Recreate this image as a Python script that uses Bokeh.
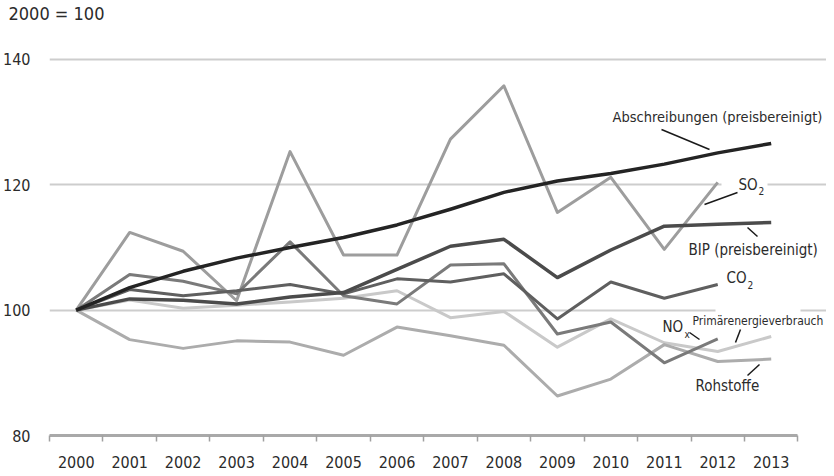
from bokeh.plotting import figure
from bokeh.models import Range1d, FixedTicker
from bokeh.core.properties import value
from bokeh.embed import file_html
from bokeh.resources import INLINE

# ---------------- data (2000 = 100) ----------------
years = [2000, 2001, 2002, 2003, 2004, 2005, 2006, 2007, 2008, 2009, 2010, 2011, 2012, 2013]
abschreibungen = [100, 103.6, 106.2, 108.3, 110.0, 111.6, 113.6, 116.1, 118.8, 120.6, 121.8, 123.3, 125.1, 126.6]
bip = [100, 101.8, 101.6, 101.0, 102.1, 102.8, 106.5, 110.2, 111.3, 105.2, 109.6, 113.4, 113.7, 114.0]
so2 = [100, 112.4, 109.4, 101.5, 125.3, 108.8, 108.8, 127.3, 135.8, 115.6, 121.2, 109.7, 120.4]
co2 = [100, 103.3, 102.3, 103.1, 104.1, 102.6, 105.0, 104.5, 105.8, 98.6, 104.5, 101.9, 104.1]
nox = [100, 105.7, 104.6, 102.6, 110.9, 102.3, 101.0, 107.2, 107.4, 96.2, 98.1, 91.6, 95.4]
primaer = [100, 101.6, 100.3, 100.8, 101.3, 101.9, 103.1, 98.8, 99.8, 94.1, 98.6, 94.8, 93.4, 95.8]
rohstoffe = [100, 95.3, 93.9, 95.1, 94.9, 92.8, 97.3, 95.9, 94.4, 86.3, 89.0, 94.5, 91.8, 92.2]
y_ticks = [80, 100, 120, 140]
grid_ticks = [100, 120, 140]

FONT = "'DejaVu Sans Condensed', Roboto, sans-serif"
TXT = "#2b2b2b"

# page-pixel helpers for annotation placement
PXW = 53.46   # px per year
PYU = 6.267   # px per index unit
TITLE_H = 16
FRAME_TOP = 8 + TITLE_H
def X(px):
    return 1999.5 + (px - 49) / PXW
def Y(py):
    return 80 + (436 - py) / PYU

p = figure(frame_width=777, frame_height=436 - FRAME_TOP,
           x_range=Range1d(1999.5, X(826)), y_range=Range1d(80, Y(FRAME_TOP)),
           output_backend="svg", toolbar_location=None,
           min_border_left=41, min_border_right=0, min_border_top=0, min_border_bottom=0)
p.outline_line_color = None
p.background_fill_color = "white"
p.border_fill_color = "white"

# index base note as title
p.title.text = "2000 = 100"
p.title.align = "left"
p.title.offset = -41
p.title.standoff = 0
p.title.text_font = FONT
p.title.text_font_size = "18px"
p.title.text_font_style = "normal"
p.title.text_color = TXT

# grid
p.xgrid.visible = False
p.ygrid.ticker = FixedTicker(ticks=grid_ticks)
p.ygrid.grid_line_color = "#cdcdcd"
p.ygrid.grid_line_width = 2
p.ygrid.bounds = (years[0] - 0.5, years[-1] + 0.5)

# y axis
p.yaxis.ticker = FixedTicker(ticks=y_ticks)
p.yaxis.axis_line_color = None
p.yaxis.major_tick_line_color = None
p.yaxis.minor_tick_line_color = None
p.yaxis.major_tick_out = 0
p.yaxis.major_tick_in = 0
p.yaxis.major_label_standoff = 19
p.yaxis.major_label_text_font = FONT
p.yaxis.major_label_text_font_size = "16px"
p.yaxis.major_label_text_color = TXT

# x axis
p.xaxis.ticker = FixedTicker(ticks=years, minor_ticks=[y - 0.5 for y in years] + [years[-1] + 0.5])
p.xaxis.bounds = (years[0] - 0.5, years[-1] + 0.5)
p.xaxis.major_label_overrides = {y: str(y) for y in years}
p.xaxis.axis_line_color = "#a9a9a9"
p.xaxis.axis_line_width = 3
p.xaxis.major_tick_line_color = None
p.xaxis.major_tick_out = 0
p.xaxis.major_tick_in = 0
p.xaxis.minor_tick_line_color = "#a0a0a0"
p.xaxis.minor_tick_line_width = 1.5
p.xaxis.minor_tick_out = 6
p.xaxis.minor_tick_in = 0
p.xaxis.major_label_standoff = 14
p.xaxis.major_label_text_font = FONT
p.xaxis.major_label_text_font_size = "16px"
p.xaxis.major_label_text_color = TXT

# white gaps in grid lines behind labels
p.quad(left=[X(721), X(715)], right=[X(767), X(800)], bottom=[Y(189), Y(314)], top=[Y(181), Y(308)],
       fill_color="white", line_color=None)

# series
series = [
    (primaer, "#c9c9c9", 3),
    (rohstoffe, "#acacac", 3),
    (so2, "#9d9d9d", 3),
    (nox, "#7a7a7a", 3),
    (co2, "#5f5f5f", 3),
    (bip, "#4b4b4b", 3.5),
    (abschreibungen, "#242424", 3.5),
]
for vals, col, w in series:
    p.line(years[:len(vals)], vals, line_color=col, line_width=w, line_join="round")

# leader lines
leaders = [
    ((661, 130), (709, 150)),   # Abschreibungen
    ((737, 193), (704, 205)),   # SO2
    ((747, 228), (757, 237)),   # BIP
    ((689, 333), (699, 340)),   # NOx
    ((740, 330), (735, 343)),   # Primärenergieverbrauch
    ((759, 365), (747, 376)),   # Rohstoffe
]
p.segment(x0=[X(a[0]) for a, b in leaders], y0=[Y(a[1]) for a, b in leaders],
          x1=[X(b[0]) for a, b in leaders], y1=[Y(b[1]) for a, b in leaders],
          line_color="#1a1a1a", line_width=1.5)

# series labels
labels = [
    ("Abschreibungen (preisbereinigt)", 612, 117, "14.5px"),
    ("SO", 738, 185, "15px"),
    ("BIP (preisbereinigt)", 688, 250, "15px"),
    ("CO", 726, 278, "15px"),
    ("NO", 662, 327, "15px"),
    ("Primärenergieverbrauch", 692, 321, "12px"),
    ("Rohstoffe", 695, 386, "15px"),
    ("2", 758, 191, "10px"),
    ("2", 747, 285, "10px"),
    ("x", 684, 335, "10px"),
]
for t, px, py, fs in labels:
    p.text(x=[X(px)], y=[Y(py)], text=[t], text_font=value(FONT), text_font_size=fs,
           text_color=TXT, text_align="left", text_baseline="middle")

open("out.html", "w").write(file_html(p, INLINE))
